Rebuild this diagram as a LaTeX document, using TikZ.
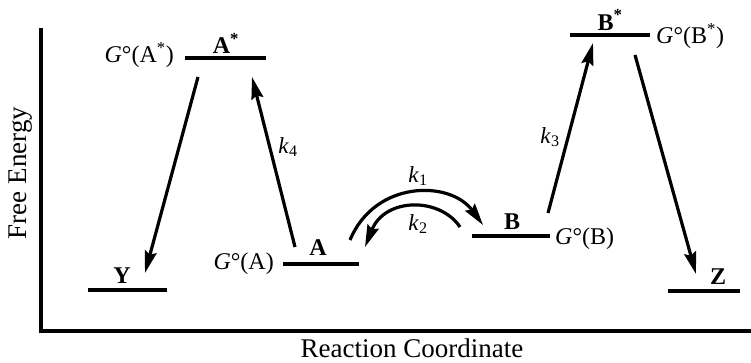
\documentclass[tikz,border=0pt]{standalone}
\usepackage{fontspec}
\setmainfont{Liberation Serif}
\usetikzlibrary{arrows.meta}
\begin{document}
\begin{tikzpicture}[x=1pt,y=-1pt,
  level/.style={line width=3.2pt},
  axis/.style={line width=4pt, line join=miter},
  arr/.style={line width=3.2pt, -{Stealth[length=22pt,width=12pt,inset=3pt]}},
  lab/.style={inner sep=0pt, font=\fontsize{24}{28}\selectfont},
  blab/.style={inner sep=0pt, font=\fontsize{24}{28}\selectfont\bfseries},
  klab/.style={inner sep=0pt, font=\fontsize{23}{27}\selectfont},
  axlab/.style={inner sep=0pt, font=\fontsize{27}{31}\selectfont}]
\useasboundingbox (0,0) rectangle (751,362);
% axes
\coordinate (ytop) at (41,28);
\coordinate (orig) at (41,331);
\coordinate (xend) at (751,331);
\draw[axis] (ytop) -- (orig) -- (xend);
\node[axlab, rotate=90] (fe) at (21,173) {Free Energy};
\node[axlab, anchor=base, text depth=0pt] (rc) at (412,357) {Reaction Coordinate};
% levels
\coordinate (Y1) at (88,290);  \coordinate (Y2) at (167,290);
\coordinate (As1) at (185,58); \coordinate (As2) at (266,58);
\coordinate (A1) at (283,264); \coordinate (A2) at (359,264);
\coordinate (B1) at (472,236); \coordinate (B2) at (550,236);
\coordinate (Bs1) at (570,35); \coordinate (Bs2) at (650,35);
\coordinate (Z1) at (668,291); \coordinate (Z2) at (740,291);
\draw[level] (Y1) -- (Y2);
\draw[level] (As1) -- (As2);
\draw[level] (A1) -- (A2);
\draw[level] (B1) -- (B2);
\draw[level] (Bs1) -- (Bs2);
\draw[level] (Z1) -- (Z2);
% level labels
\node[blab] (lY) at (122,276) {Y};
\node[blab] (lAs) at (226,43) {A\textsuperscript{*}};
\node[blab] (lA) at (318,248) {A};
\node[blab] (lB) at (512,222) {B};
\node[blab] (lBs) at (610,20) {B\textsuperscript{*}};
\node[blab] (lZ) at (718,277) {Z};
\node[lab, anchor=east] (gAs) at (174,55) {\textit{G}°(A\textsuperscript{*})};
\node[lab, anchor=east] (gA) at (274,264) {\textit{G}°(A)};
\node[lab, anchor=west] (gB) at (555,239) {\textit{G}°(B)};
\node[lab, anchor=west] (gBs) at (656,36) {\textit{G}°(B\textsuperscript{*})};
% arrow endpoints
\coordinate (k4s) at (295,247); \coordinate (k4e) at (252,77);
\coordinate (ys) at (198,77);   \coordinate (ye) at (145,273);
\coordinate (k3s) at (548,213); \coordinate (k3e) at (593,43);
\coordinate (zs) at (635,55);   \coordinate (ze) at (696,274);
\coordinate (k1s) at (350,240); \coordinate (k1e) at (483,225);
\coordinate (k2s) at (460,227); \coordinate (k2e) at (365,247);
\draw[arr] (k4s) -- (k4e);
\draw[arr] (ys) -- (ye);
\draw[arr] (k3s) -- (k3e);
\draw[arr] (zs) -- (ze);
\draw[arr] (k1s) .. controls (375,180) and (450,180) .. (k1e);
\draw[arr] (k2s) .. controls (440,197) and (385,197) .. (k2e);
% rate labels
\node[klab] (k1) at (418,176) {\textit{k}\textsubscript{1}};
\node[klab] (k2) at (418,224) {\textit{k}\textsubscript{2}};
\node[klab] (k3) at (550,137) {\textit{k}\textsubscript{3}};
\node[klab] (k4) at (288,147) {\textit{k}\textsubscript{4}};
\end{tikzpicture}
\end{document}
